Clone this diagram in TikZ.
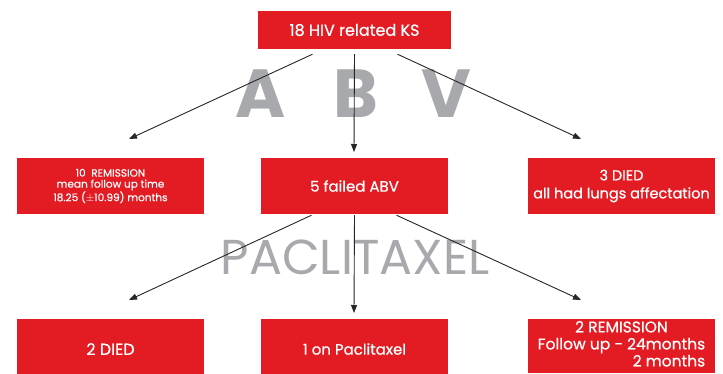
\documentclass[tikz,border=0pt]{standalone}
\usepackage{fontspec}
\setmainfont{Poppins}
\newfontfamily\boxfont{Poppins}[FakeBold=0.6]
\usetikzlibrary{arrows.meta}
\definecolor{boxred}{HTML}{E31B23}
\definecolor{wmgray}{HTML}{A7A9AC}
\tikzset{
  redbox/.style={rectangle, fill=boxred, text=white, align=center, inner sep=0pt,
    minimum width=187pt, minimum height=56pt},
  conn/.style={draw=black!85, line width=0.9pt, -{Triangle[length=8pt,width=6pt]}},
  wm/.style={text=wmgray, inner sep=0pt, anchor=base},
}
\begin{document}
\begin{tikzpicture}[x=1pt,y=-1pt]
\clip (0,0) rectangle (723,373);
\fill[white] (0,0) rectangle (723,373);
% watermarks
\node[wm, font=\fontsize{68}{68}\selectfont\bfseries] (wa) at (261,117) {A};
\node[wm, font=\fontsize{68}{68}\selectfont\bfseries] (wb) at (356,117) {B};
\node[wm, font=\fontsize{68}{68}\selectfont\bfseries] (wv) at (446,117) {V};
\node[wm, font=\fontsize{49}{49}\selectfont] (wp) at (355,274) {PACLITAXEL};
% boxes
\node[redbox, minimum width=193pt, minimum height=38pt, font=\boxfont\fontsize{16}{18}\selectfont] (top) at (354.5,30) {18 HIV related KS};
\node[redbox, font=\boxfont\fontsize{10.5}{11}\selectfont] (m1) at (110.5,186) {10\ \ REMISSION\\mean follow up time\\18.25 ($\pm$10.99) months};
\node[redbox, font=\boxfont\fontsize{15}{18}\selectfont] (m2) at (354.5,186) {5 failed ABV};
\node[redbox, font=\boxfont\fontsize{14.5}{18}\selectfont] (m3) at (621.5,186) {3 DIED\\all had lungs affectation};
\node[redbox, minimum height=60pt, font=\boxfont\fontsize{16}{18}\selectfont] (b1) at (110.5,349) {2 DIED};
\node[redbox, minimum height=60pt, font=\boxfont\fontsize{15}{18}\selectfont] (b2) at (354.5,349) {1 on Paclitaxel};
\node[redbox, minimum height=54pt, font=\boxfont\fontsize{15.5}{17}\selectfont] (b3) at (621.5,346) {\begin{tabular}{@{}c@{}}2 REMISSION\\Follow up - 24months\\\multicolumn{1}{@{}r@{}}{2 months}\end{tabular}};
% arrow end points
\coordinate (t1) at (129,139);
\coordinate (t2) at (354,152);
\coordinate (t3) at (581,139);
\coordinate (u1) at (129,300);
\coordinate (u2) at (354,313);
\coordinate (u3) at (581,300);
\draw[conn] ([xshift=-42pt,yshift=-5pt]top.south) -- (t1);
\draw[conn] ([xshift=0pt,yshift=-5pt]top.south) -- (t2);
\draw[conn] ([xshift=43pt,yshift=-5pt]top.south) -- (t3);
\draw[conn] ([xshift=-43pt,yshift=-1pt]m2.south) -- (u1);
\draw[conn] ([xshift=0pt,yshift=-1pt]m2.south) -- (u2);
\draw[conn] ([xshift=42pt,yshift=-1pt]m2.south) -- (u3);
\end{tikzpicture}
\end{document}
